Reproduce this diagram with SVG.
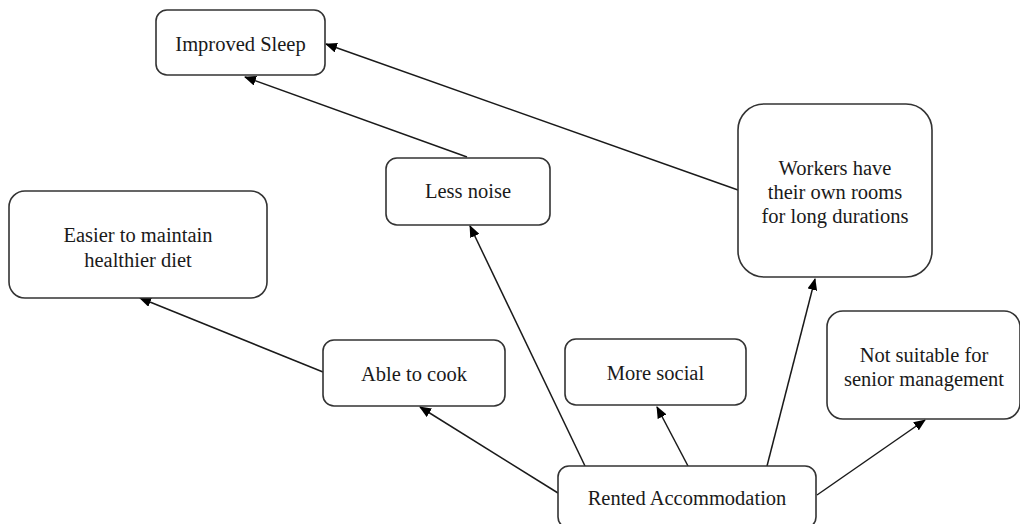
<svg xmlns="http://www.w3.org/2000/svg" width="1020" height="524" viewBox="0 0 1020 524">
<defs>
<marker id="ah" markerUnits="userSpaceOnUse" markerWidth="12" markerHeight="10" refX="11" refY="5" orient="auto">
<path d="M0,0 L12,5 L0,10 Z" fill="#000"/>
</marker>
<style>
.box{fill:#fff;stroke:#333;stroke-width:1.6}
.t{font-family:'Liberation Serif','Times New Roman',serif;font-size:20.5px;fill:#1a1a1a;text-anchor:middle}
.c{stroke:#1a1a1a;stroke-width:1.5;fill:none;marker-end:url(#ah)}
</style>
</defs>
<rect width="1020" height="524" fill="#fff"/>
<g id="connectors">
<line class="c" x1="738" y1="190" x2="326" y2="44"/>
<line class="c" x1="467" y1="157" x2="245" y2="77"/>
<line class="c" x1="323" y1="372" x2="140" y2="298"/>
<line class="c" x1="585" y1="466" x2="470" y2="226"/>
<line class="c" x1="558" y1="493" x2="420" y2="407"/>
<line class="c" x1="688" y1="466" x2="657" y2="407"/>
<line class="c" x1="767" y1="466" x2="815" y2="279"/>
<line class="c" x1="817" y1="495" x2="925" y2="420"/>
</g>
<g id="improved-sleep">
<rect class="box" x="156" y="10" width="169" height="65" rx="11"/>
<text class="t" x="240.5" y="51">Improved Sleep</text>
</g>
<g id="less-noise">
<rect class="box" x="386" y="158" width="164" height="67" rx="11"/>
<text class="t" x="468" y="198">Less noise</text>
</g>
<g id="workers-rooms">
<rect class="box" x="738" y="104" width="194" height="173" rx="26"/>
<text class="t" x="835" y="175">Workers have</text>
<text class="t" x="835" y="199">their own rooms</text>
<text class="t" x="835" y="223">for long durations</text>
</g>
<g id="healthier-diet">
<rect class="box" x="9" y="191" width="258" height="107" rx="16"/>
<text class="t" x="138" y="242">Easier to maintain</text>
<text class="t" x="138" y="267">healthier diet</text>
</g>
<g id="able-to-cook">
<rect class="box" x="323" y="340" width="182" height="66" rx="11"/>
<text class="t" x="414" y="381">Able to cook</text>
</g>
<g id="more-social">
<rect class="box" x="565" y="339" width="181" height="66" rx="11"/>
<text class="t" x="655.5" y="380">More social</text>
</g>
<g id="not-suitable">
<rect class="box" x="827" y="311" width="193" height="108" rx="16"/>
<text class="t" x="924" y="362">Not suitable for</text>
<text class="t" x="924" y="386">senior management</text>
</g>
<g id="rented">
<rect class="box" x="558" y="466" width="258" height="62" rx="11"/>
<text class="t" x="687" y="505">Rented Accommodation</text>
</g>
</svg>
